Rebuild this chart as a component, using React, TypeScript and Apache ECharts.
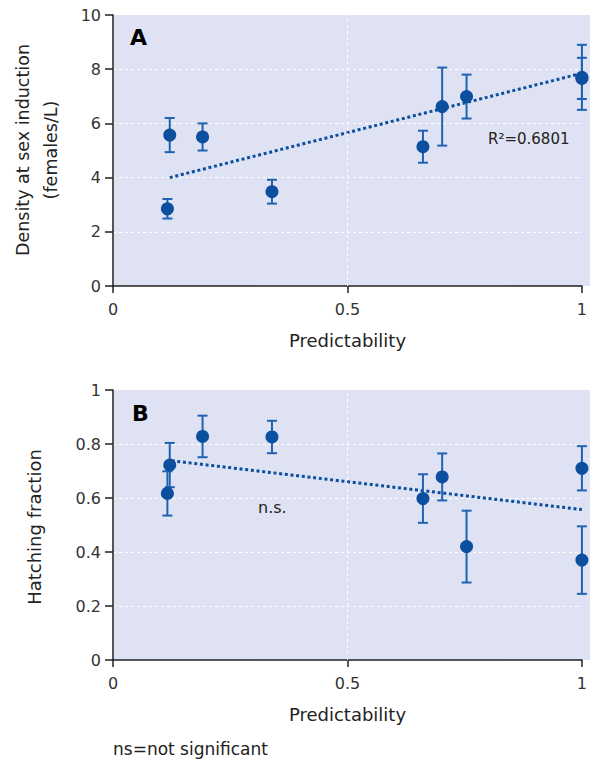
import React, { useEffect, useRef } from "react";
import * as echarts from "echarts";

// ---- data ----
const predictability = [0.116, 0.121, 0.191, 0.339, 0.661, 0.702, 0.754, 1.0, 1.0];
const densityMean = [2.85, 5.57, 5.5, 3.48, 5.14, 6.62, 6.99, 7.7, 7.66];
const densityErr = [0.36, 0.63, 0.5, 0.44, 0.59, 1.44, 0.81, 1.2, 0.76];
const hatchMean = [0.617, 0.722, 0.828, 0.826, 0.598, 0.678, 0.42, 0.71, 0.37];
const hatchErr = [0.082, 0.082, 0.077, 0.06, 0.09, 0.087, 0.133, 0.082, 0.125];
const trendA = [[0.121, 4.0], [1.0, 7.85]];
const trendB = [[0.125, 0.738], [1.0, 0.557]];
const xTicks = [0, 0.5, 1];
const xGridLines = [0.5];
const yTicksA = [0, 2, 4, 6, 8, 10];
const yTicksB = [0, 0.2, 0.4, 0.6, 0.8, 1];

const FONT = "DejaVu Sans";
const BG = "#dfe2f3";
const POINT = "#0b4f9e";
const BAR = "#1f62b2";
const AXIS = "#222";

function errorRender(params: any, api: any) {
  const x = api.value(0);
  const lo = api.coord([x, api.value(1)]);
  const hi = api.coord([x, api.value(2)]);
  const hw = 5;
  const style = { stroke: BAR, lineWidth: 2 };
  return {
    type: "group",
    children: [
      { type: "line", shape: { x1: lo[0], y1: lo[1], x2: hi[0], y2: hi[1] }, style },
      { type: "line", shape: { x1: lo[0] - hw, y1: lo[1], x2: lo[0] + hw, y2: lo[1] }, style },
      { type: "line", shape: { x1: hi[0] - hw, y1: hi[1], x2: hi[0] + hw, y2: hi[1] }, style },
    ],
  };
}

export default function App() {
  const ref = useRef<HTMLDivElement>(null);
  useEffect(() => {
    if (!ref.current) return;
    const chart = echarts.init(ref.current, null, { renderer: "svg", width: 590, height: 761 });

    const mkX = (gi: number) => ({
      type: "value",
      gridIndex: gi,
      min: xTicks[0],
      max: xTicks[xTicks.length - 1],
      interval: xTicks[1] - xTicks[0],
      name: "Predictability",
      nameLocation: "middle",
      nameGap: 45,
      nameTextStyle: { fontSize: 18, color: AXIS, fontFamily: FONT },
      axisLine: { lineStyle: { color: AXIS, width: 1.5 } },
      axisTick: { show: true, length: 7, lineStyle: { color: AXIS, width: 1.5 } },
      axisLabel: { fontSize: 16, color: "#333", margin: 15, fontFamily: FONT },
      splitLine: { show: false },
    });
    const mkY = (gi: number, ticks: number[]) => ({
      type: "value",
      gridIndex: gi,
      min: ticks[0],
      max: ticks[ticks.length - 1],
      interval: ticks[1] - ticks[0],
      axisLine: { show: true, lineStyle: { color: AXIS, width: 1.5 } },
      axisTick: { show: true, length: 8, lineStyle: { color: AXIS, width: 1.5 } },
      axisLabel: { fontSize: 16, color: "#333", margin: 12, fontFamily: FONT },
      splitLine: {
        show: true,
        showMinLine: false,
        showMaxLine: false,
        lineStyle: { color: "#ffffff", type: [3, 3], width: 1 },
      },
    });

    const errA = predictability.map((x, i) => [x, densityMean[i] - densityErr[i], densityMean[i] + densityErr[i]]);
    const errB = predictability.map((x, i) => [x, hatchMean[i] - hatchErr[i], hatchMean[i] + hatchErr[i]]);
    const ptsA = predictability.map((x, i) => [x, densityMean[i]]);
    const ptsB = predictability.map((x, i) => [x, hatchMean[i]]);

    const trendStyle = { color: POINT, width: 3, type: [3, 2.7] as any, cap: "butt" };
    const vGrid = {
      silent: true,
      symbol: "none",
      label: { show: false },
      lineStyle: { color: "#ffffff", type: [3, 3], width: 1 },
      data: xGridLines.map((v) => ({ xAxis: v })),
    };

    const option: any = {
      animation: false,
      textStyle: { fontFamily: FONT },
      grid: [
        { left: 113, right: 5, top: 15, height: 271, show: true, backgroundColor: BG, borderWidth: 0 },
        { left: 113, right: 5, top: 390, height: 270, show: true, backgroundColor: BG, borderWidth: 0 },
      ],
      xAxis: [mkX(0), mkX(1)],
      yAxis: [mkY(0, yTicksA), mkY(1, yTicksB)],
      series: [
        { type: "line", xAxisIndex: 0, yAxisIndex: 0, data: trendA, symbol: "none", lineStyle: trendStyle, z: 2, markLine: vGrid },
        { type: "custom", xAxisIndex: 0, yAxisIndex: 0, data: errA, renderItem: errorRender, z: 3 },
        { type: "scatter", xAxisIndex: 0, yAxisIndex: 0, data: ptsA, symbolSize: 13, itemStyle: { color: POINT, opacity: 1 }, z: 4 },
        { type: "line", xAxisIndex: 1, yAxisIndex: 1, data: trendB, symbol: "none", lineStyle: trendStyle, z: 2, markLine: vGrid },
        { type: "custom", xAxisIndex: 1, yAxisIndex: 1, data: errB, renderItem: errorRender, z: 3 },
        { type: "scatter", xAxisIndex: 1, yAxisIndex: 1, data: ptsB, symbolSize: 13, itemStyle: { color: POINT, opacity: 1 }, z: 4 },
      ],
      graphic: [
        { type: "rect", z: -10, shape: { x: 570, y: 15, width: 20, height: 271 }, style: { fill: BG } },
        { type: "rect", z: -10, shape: { x: 570, y: 390, width: 20, height: 270 }, style: { fill: BG } },
        { type: "text", x: 130, y: 37, style: { text: "A", fontSize: 22, fontWeight: 900, fontFamily: FONT, fill: "#000", verticalAlign: "middle" } },
        { type: "text", x: 132, y: 413, style: { text: "B", fontSize: 22, fontWeight: 900, fontFamily: FONT, fill: "#000", verticalAlign: "middle" } },
        { type: "text", x: 488, y: 139, style: { text: "R²=0.6801", fontSize: 15, fontFamily: FONT, fill: "#222", verticalAlign: "middle" } },
        { type: "text", x: 258, y: 507, style: { text: "n.s.", fontSize: 16, fontFamily: FONT, fill: "#222", verticalAlign: "middle" } },
        { type: "text", x: 113, y: 749, style: { text: "ns=not significant", fontSize: 17, fontFamily: FONT, fill: "#222", verticalAlign: "middle" } },
        { type: "text", x: 23, y: 150, rotation: Math.PI / 2, style: { text: "Density at sex induction", fontSize: 17.5, fontFamily: FONT, fill: AXIS, align: "center", verticalAlign: "middle" } },
        { type: "text", x: 51, y: 150, rotation: Math.PI / 2, style: { text: "(females/L)", fontSize: 17.5, fontFamily: FONT, fill: AXIS, align: "center", verticalAlign: "middle" } },
        { type: "text", x: 34, y: 527, rotation: Math.PI / 2, style: { text: "Hatching fraction", fontSize: 18, fontFamily: FONT, fill: AXIS, align: "center", verticalAlign: "middle" } },
      ],
    };
    chart.setOption(option);
    return () => chart.dispose();
  }, []);
  return <div ref={ref} style={{ position: "absolute", left: 0, top: 0, width: 590, height: 761, overflow: "hidden" }} />;
}
